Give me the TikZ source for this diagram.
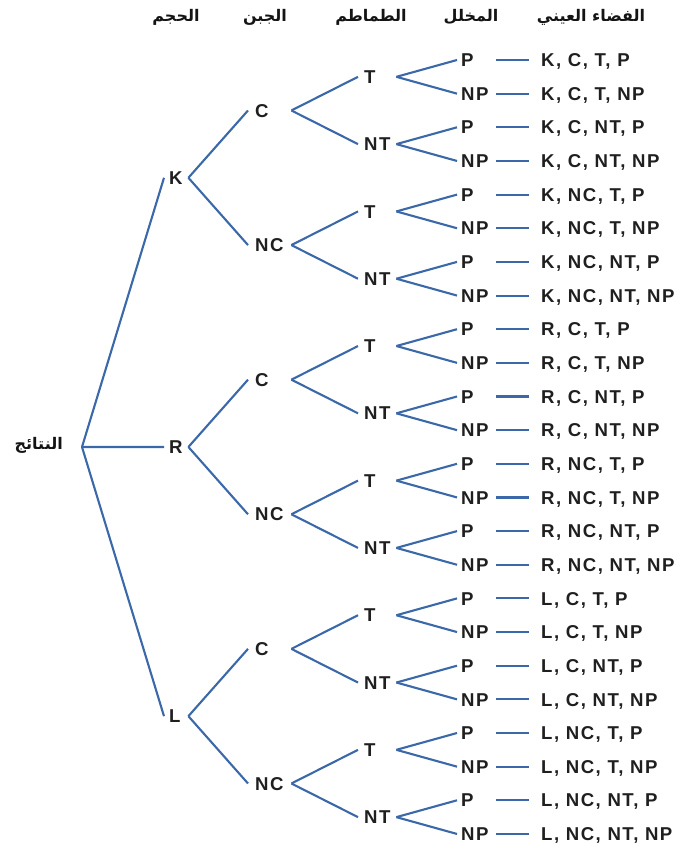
\documentclass[tikz,border=0pt]{standalone}
\usepackage{fontspec}
\setmainfont{Liberation Sans}[LetterSpace=8]
\newfontfamily\arabicfont[Script=Arabic]{DejaVu Sans}
\TeXXeTstate=1
\definecolor{lineblue}{RGB}{58,104,168}
\begin{document}
\begin{tikzpicture}[x=1pt,y=-1pt,
  lbl/.style={font=\fontsize{18.6}{22}\selectfont\bfseries, text=black!88,
    text height=13.3pt, text depth=0pt, anchor=west},
  arlbl/.style={font=\arabicfont\fontsize{16}{19}\selectfont\bfseries, text=black!92, inner sep=0pt},
  edge/.style={draw=lineblue, line width=2.1pt},
  sizebox/.style={lbl, text width=14pt, align=left, inner xsep=5pt},
  cheesebox/.style={lbl, text width=29pt, align=left, inner xsep=7pt},
  tomatobox/.style={lbl, text width=26pt, align=left, inner xsep=6pt},
  picklebox/.style={lbl, text width=31pt, align=left, inner xsep=4pt},
  outbox/.style={lbl, inner xsep=12pt}]
\useasboundingbox (0,0) rectangle (677,846);
% headers
\node[arlbl] (h1) at (176,17) {\beginR الحجم\endR};
\node[arlbl] (h2) at (265,17) {\beginR الجبن\endR};
\node[arlbl] (h3) at (371,17) {\beginR الطماطم\endR};
\node[arlbl] (h4) at (471,17) {\beginR المخلل\endR};
\node[arlbl] (h5) at (591,17) {\beginR الفضاء العيني\endR};
% root
\node[arlbl, anchor=east] (rootlbl) at (63,445) {\beginR النتائج\endR};
\coordinate (root) at (82,447);
\foreach \m/\ml in {0/K,1/R,2/L} {
  \node[sizebox] (s\m) at (164, {60+33.65*(8*\m+3.5)}) {\ml};
  \draw[edge] (root) -- (s\m.west);
  \foreach \c/\cl in {0/C,1/NC} {
    \pgfmathtruncatemacro\k{2*\m+\c}
    \node[cheesebox] (c\k) at (248, {60+33.65*(4*\k+1.5)}) {\cl};
    \draw[edge] (s\m.east) -- (c\k.west);
    \foreach \t/\tl in {0/T,1/NT} {
      \pgfmathtruncatemacro\j{2*\k+\t}
      \node[tomatobox] (t\j) at (358, {60+33.65*(2*\j+0.5)}) {\tl};
      \draw[edge] (c\k.east) -- (t\j.west);
      \foreach \p/\pl in {0/P,1/NP} {
        \pgfmathtruncatemacro\i{2*\j+\p}
        \node[picklebox] (p\i) at (457, {60+33.65*\i}) {\pl};
        \draw[edge] (t\j.east) -- (p\i.west);
        \node[outbox] (o\i) at (529, {60+33.65*\i}) {\ml, \cl, \tl, \pl};
        \draw[edge] (p\i.east) -- (o\i.west);
      }
    }
  }
}
\end{tikzpicture}
\end{document}
